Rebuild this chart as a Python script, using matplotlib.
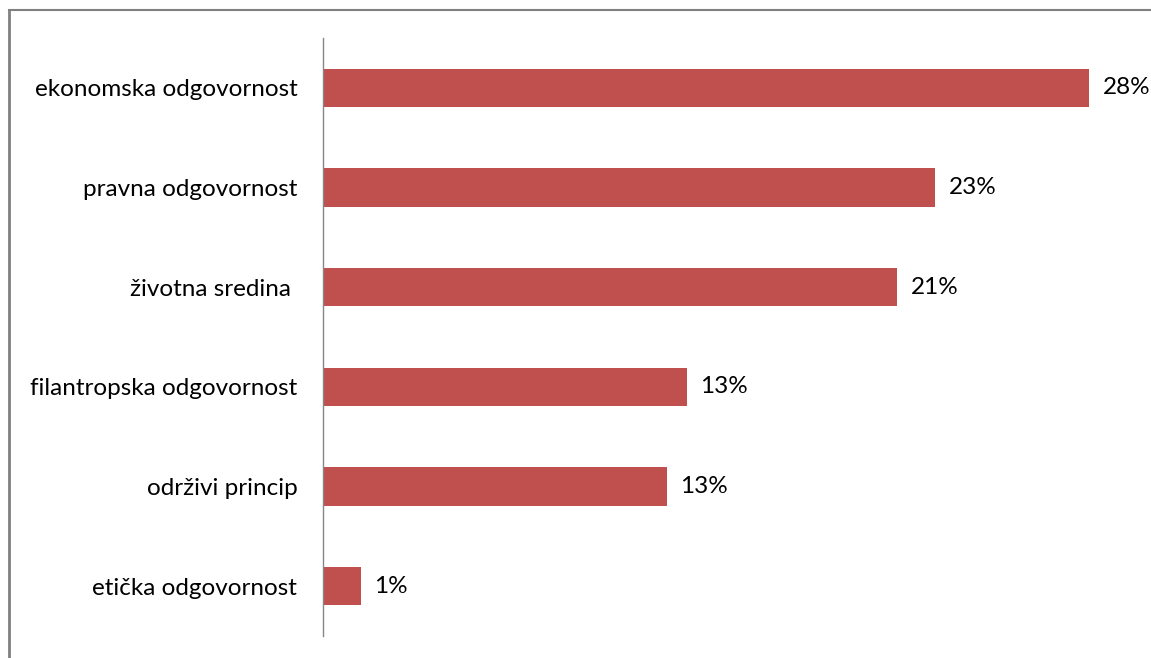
import matplotlib.pyplot as plt
from matplotlib.lines import Line2D

plt.rcParams['font.family'] = ['Lato', 'DejaVu Sans']

categories = ["ekonomska odgovornost", "pravna odgovornost", "životna sredina ",
              "filantropska odgovornost", "održivi princip", "etička odgovornost"]
values = [28.27, 22.58, 21.18, 13.43, 12.69, 1.40]
labels = ["28%", "23%", "21%", "13%", "13%", "1%"]

W, H = 1151, 658
fig = plt.figure(figsize=(W / 100, H / 100), dpi=100)
ax = fig.add_axes([323 / W, 22 / H, 813 / W, 598 / H])

ypos = list(range(len(categories)))[::-1]
ax.barh(ypos, values, height=0.385, color="#C0504D")
for y, v, t in zip(ypos, values, labels):
    ax.text(v + 0.5, y, t, va="center", ha="left", fontsize=17.5, color="black")

ax.set_xlim(0, 30)
ax.set_ylim(-0.5, 5.5)
ax.set_yticks(ypos)
ax.set_yticklabels(categories, fontsize=17.5)
ax.tick_params(axis="y", length=0, pad=18.5)
ax.set_xticks([])
for s in ["top", "right", "bottom"]:
    ax.spines[s].set_visible(False)
ax.spines["left"].set_color("#868686")
ax.spines["left"].set_linewidth(1.0)

# outer frame (top and left edges)
fig.add_artist(Line2D([9 / W, 1], [1 - 10 / H, 1 - 10 / H], transform=fig.transFigure,
                      color="#808080", lw=1.5))
fig.add_artist(Line2D([9 / W, 9 / W], [0, 1 - 10 / H], transform=fig.transFigure,
                      color="#808080", lw=2))

fig.savefig("out.png", dpi=100)
